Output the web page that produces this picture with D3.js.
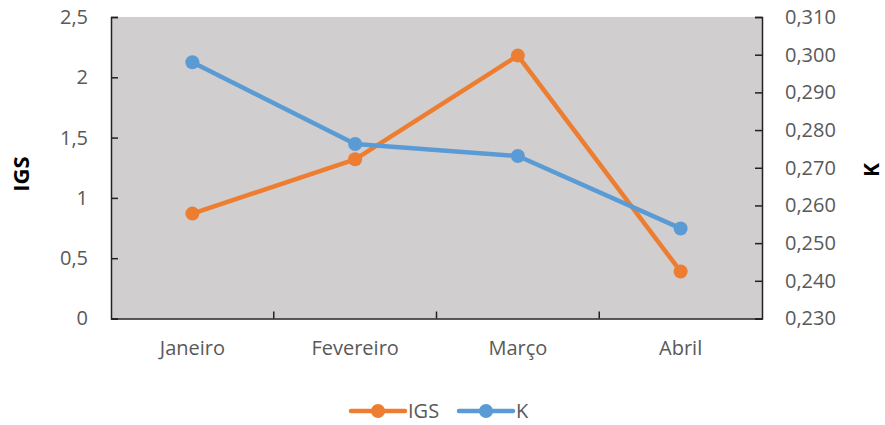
<!DOCTYPE html>
<html><head><meta charset="utf-8">
<script src="https://cdn.jsdelivr.net/npm/d3@7"></script>
<style>body{margin:0;background:#fff;} text{font-family:"Open Sans","Liberation Sans",sans-serif;}</style>
</head><body>
<svg id="c" width="885" height="425"></svg>
<script>
const categories = ["Janeiro","Fevereiro","Março","Abril"];
const igsValues = [0.87, 1.32, 2.18, 0.39];
const kValues = [0.298, 0.2763, 0.2731, 0.2539];
const leftTicks = [0, 0.5, 1, 1.5, 2, 2.5];
const rightTicks = [0.23, 0.24, 0.25, 0.26, 0.27, 0.28, 0.29, 0.30, 0.31];

const svg = d3.select("#c");
const L = 111, R = 762, T = 17, B = 318.5;
const x = d3.scaleBand().domain(categories).range([L, R]);
const yL = d3.scaleLinear().domain([0, 2.5]).range([B, T]);
const yR = d3.scaleLinear().domain([0.23, 0.31]).range([B, T]);
const fmtL = v => String(v).replace(".", ",");
const fmtR = v => d3.format(".3f")(v).replace(".", ",");
const txt = "#595959";
const fs = 20;

svg.append("rect").attr("x", L).attr("y", T).attr("width", R - L).attr("height", B - T).attr("fill", "#D0CECE");

const axL = svg.append("g").attr("transform", `translate(${L},0)`)
  .call(d3.axisLeft(yL).tickValues(leftTicks).tickFormat(fmtL).tickSizeInner(-7).tickSizeOuter(-7).tickPadding(23));
const axR = svg.append("g").attr("transform", `translate(${R},0)`)
  .call(d3.axisRight(yR).tickValues(rightTicks).tickFormat(fmtR).tickSizeInner(-7).tickSizeOuter(-7).tickPadding(23));
const axB = svg.append("g").attr("transform", `translate(0,${B})`)
  .call(d3.axisBottom(x).tickSizeInner(0).tickSizeOuter(0).tickPadding(22));
svg.append("g").selectAll("line").data(categories.slice(1)).join("line")
  .attr("x1", d => x(d)).attr("x2", d => x(d)).attr("y1", B).attr("y2", B - 7)
  .attr("stroke", "#222").attr("stroke-width", 1.5);

[axL, axR, axB].forEach(a => {
  a.selectAll("path").attr("stroke", "#222").attr("stroke-width", 1.5);
  a.selectAll("line").attr("stroke", "#222").attr("stroke-width", 1.5);
  a.selectAll("text").attr("fill", txt).attr("font-size", fs);
});

svg.append("text").attr("transform", `translate(29,174) rotate(-90)`)
  .attr("text-anchor", "middle").attr("font-weight", "bold").attr("font-size", 22).attr("fill", "#000").text("IGS");
svg.append("text").attr("transform", `translate(879,170) rotate(-90)`)
  .attr("text-anchor", "middle").attr("font-weight", "bold").attr("font-size", 21).attr("fill", "#000").text("K");

const cx = d => x(d) + x.bandwidth() / 2;
const series = [
  {name: "IGS", vals: igsValues, y: yL, color: "#ED7D31"},
  {name: "K", vals: kValues, y: yR, color: "#5B9BD5"}
];
series.forEach(s => {
  const pts = categories.map((c, i) => [cx(c), s.y(s.vals[i])]);
  svg.append("path").attr("d", d3.line()(pts)).attr("fill", "none")
    .attr("stroke", s.color).attr("stroke-width", 4.5).attr("stroke-linejoin", "round").attr("stroke-linecap", "round");
  svg.append("g").selectAll("circle").data(pts).join("circle")
    .attr("cx", d => d[0]).attr("cy", d => d[1]).attr("r", 7).attr("fill", s.color);
});

const leg = [{name:"IGS", color:"#ED7D31", x:351}, {name:"K", color:"#5B9BD5", x:459}];
const ly = 411;
leg.forEach(l => {
  svg.append("line").attr("x1", l.x).attr("x2", l.x + 54).attr("y1", ly).attr("y2", ly)
    .attr("stroke", l.color).attr("stroke-width", 4.5).attr("stroke-linecap", "round");
  svg.append("circle").attr("cx", l.x + 27).attr("cy", ly).attr("r", 7).attr("fill", l.color);
  svg.append("text").attr("x", l.x + 57).attr("y", ly + 7).attr("font-size", fs).attr("fill", txt).text(l.name);
});
</script>
</body></html>
